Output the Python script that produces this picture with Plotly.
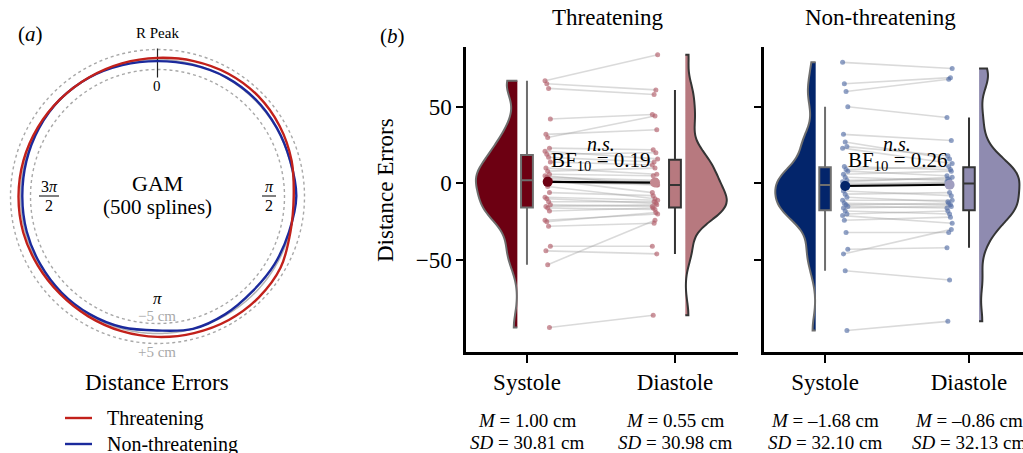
import numpy as np
import plotly.graph_objects as go

# ---------------- data ----------------
# Panel (a): GAM fitted distance-error deviations (cm) around the cardiac cycle
gam_angles_deg = [0, 15, 30, 45, 60, 75, 90, 105, 120, 135, 150, 165,
                  180, 195, 210, 225, 240, 255, 270, 285, 300, 315, 330, 345]
gam_threatening = [0.8, 1.6, 2.4, 2.6, 2.0, 0.9, -0.4, 0.3, 2.6, 3.0, 2.8, 2.2,
                   1.7, 1.2, 0.7, 0.4, 0.6, 1.0, 1.0, 0.9, 0.6, 0.3, 0.2, 0.4]
gam_nonthreatening = [-0.8, -0.4, 0.3, 0.5, 0.3, 0.2, 0.9, -0.4, -0.9, -1.4, -0.6, 0.0,
                      -1.5, -0.8, -0.6, -0.6, -0.8, -0.8, -0.9, -0.6, -0.1, 0.3, 0.1, -0.5]
ring_levels = [-5, 5]

# Panel (b): per-participant distance errors (cm), paired by position
phases = ["Systole", "Diastole"]
conditions = ["Threatening", "Non-threatening"]
threat_systole = [67, 65, 62, 42, 32, 30, 23, 21, 19, 17, 14, 10, 8, 6, 5, 4, 3, 2,
                  1, -2, -6, -9, -10, -12, -14, -15, -16, -18, -24, -25, -28, -41, -44, -53, -94]
threat_diastole = [84, 61, 58, 45, 35, 44, 22, 16, 20, 14, 12, 6, 10, 5, -1, 2, 1, -6,
                   -1, -10, -8, -11, -13, -12, -15, -14, -17, -16, -20, -19, -26, -41, -46, -24, -86]
non_systole = [79, 65, 60, 50, 32, 27, 24, 23, 11, 9, 8, 6, 4, 2, 1, 0, -1, -1,
               -5, -7, -9, -11, -13, -14, -15, -16, -18, -20, -21, -24, -32, -43, -46, -57, -96]
non_diastole = [75, 69, 68, 43, 28, 16, 18, 13, 9, 11, 5, 8, 2, 3, 4, 0, 0, 1,
                -8, -6, -12, -11, -14, -13, -16, -15, -20, -18, -26, -22, -32, -42, -30, -63, -90]
means = {"Threatening": [1.00, 0.55], "Non-threatening": [-1.68, -0.86]}
mean_labels = {"Threatening": ["1.00", "0.55"], "Non-threatening": ["–1.68", "–0.86"]}
sd_labels = {"Threatening": ["30.81", "30.98"], "Non-threatening": ["32.10", "32.13"]}
bf10 = {"Threatening": "0.19", "Non-threatening": "0.26"}
y_tick_vals = [-50, 0, 50]
y_tick_text = ["−50", "0", "50"]

# ---------------- styling ----------------
W, H = 1023, 453
FONT = "Liberation Serif"
RED, BLUE = "#c2211b", "#1b2a9c"


def px(x, y):
    return x / W, 1 - y / H


fig = go.Figure()

# ---------- panel (a): polar ----------
theta_ring = np.linspace(0, 360, 361)
for lev in ring_levels:
    fig.add_trace(go.Scatterpolar(r=np.full_like(theta_ring, lev), theta=theta_ring, mode="lines",
                                  line=dict(color="#a8a8a8", width=1.4, dash="3px,3px"),
                                  hoverinfo="skip", showlegend=False, subplot="polar"))
fig.add_trace(go.Scatterpolar(r=np.zeros_like(theta_ring), theta=theta_ring, mode="lines",
                              line=dict(color="#b4b4b4", width=1.5),
                              hoverinfo="skip", showlegend=False, subplot="polar"))
fig.add_trace(go.Scatterpolar(r=[-9, 5.5], theta=[0, 0], mode="lines",
                              line=dict(color="#222", width=1.2),
                              hoverinfo="skip", showlegend=False, subplot="polar"))
for vals, col in [(gam_nonthreatening, BLUE), (gam_threatening, RED)]:
    fig.add_trace(go.Scatterpolar(r=vals + [vals[0]], theta=gam_angles_deg + [360],
                                  mode="lines", line=dict(color=col, width=2.4, shape="spline", smoothing=1.0),
                                  hoverinfo="skip", showlegend=False, subplot="polar"))

# ---------- panel (b) ----------
panel_data = {
    "Threatening": dict(sys=threat_systole, dia=threat_diastole, xa="x", ya="y",
                        sys_fill="#6d0012", dia_fill="#b7797f", sys_line="#6e6e6e", dia_line="#343434",
                        pt="rgba(176,92,104,0.65)", mdot=["#6d0012", "#c48890"]),
    "Non-threatening": dict(sys=non_systole, dia=non_diastole, xa="x2", ya="y2",
                            sys_fill="#03256b", dia_fill="#8f8bb0", sys_line="#6e6e6e", dia_line="#343434",
                            pt="rgba(84,110,166,0.65)", mdot=["#03256b", "#a09ec0"]),
}

for cond in conditions:
    d = panel_data[cond]
    n = len(d["sys"])
    jit = [((i * 37) % 7 - 3) * 0.006 for i in range(n)]
    xs = [1.14 + j for j in jit]
    xd = [1.865 - j for j in jit]
    lx, ly = [], []
    for i in range(n):
        lx += [xs[i], xd[i], None]
        ly += [d["sys"][i], d["dia"][i], None]
    fig.add_trace(go.Scatter(x=lx, y=ly, mode="lines", line=dict(color="rgba(150,150,150,0.35)", width=1.6),
                             hoverinfo="skip", showlegend=False, xaxis=d["xa"], yaxis=d["ya"]))
    fig.add_trace(go.Scatter(x=xs + xd, y=d["sys"] + d["dia"], mode="markers",
                             marker=dict(color=d["pt"], size=5), hoverinfo="skip", showlegend=False,
                             xaxis=d["xa"], yaxis=d["ya"]))
    m = means[cond]
    fig.add_trace(go.Scatter(x=[1.14, 1.865], y=m, mode="lines+markers",
                             line=dict(color="black", width=2.2),
                             marker=dict(color=d["mdot"], size=10), hoverinfo="skip", showlegend=False,
                             xaxis=d["xa"], yaxis=d["ya"]))
    # half violins
    fig.add_trace(go.Violin(x0=1 - 0.065, y=d["sys"], side="negative", width=0.56, spanmode="hard",
                            bandwidth=9, fillcolor=d["sys_fill"], line=dict(color=d["sys_line"], width=2),
                            points=False, box_visible=False, meanline_visible=False, opacity=1,
                            hoverinfo="skip", showlegend=False, xaxis=d["xa"], yaxis=d["ya"]))
    fig.add_trace(go.Violin(x0=2 + 0.07, y=d["dia"], side="positive", width=0.56, spanmode="hard",
                            bandwidth=9, fillcolor=d["dia_fill"], line=dict(color=d["dia_line"], width=2),
                            points=False, box_visible=False, meanline_visible=False, opacity=1,
                            hoverinfo="skip", showlegend=False, xaxis=d["xa"], yaxis=d["ya"]))
    # boxes (Tukey whiskers; outliers hidden)
    for xv, vals, fc, lc in [(1, d["sys"], d["sys_fill"], d["sys_line"]),
                             (2, d["dia"], d["dia_fill"], d["dia_line"])]:
        fig.add_trace(go.Box(x0=xv, y=vals, width=0.08, fillcolor=fc,
                             line=dict(color=lc, width=2), boxpoints="outliers",
                             marker=dict(opacity=0, size=1), whiskerwidth=0,
                             hoverinfo="skip", showlegend=False, xaxis=d["xa"], yaxis=d["ya"]))

# ---------- axes ----------
ydom = [1 - 352 / H, 1 - 47 / H]
common_x = dict(type="linear", tickvals=[1, 2], ticktext=phases, showline=True, linecolor="black",
                linewidth=2.5, ticks="outside", ticklen=8, tickwidth=2, tickcolor="black",
                showgrid=False, zeroline=False, tickfont=dict(family=FONT, size=23, color="black"),
                ticklabelstandoff=0)
common_y = dict(range=[-110, 89], tickvals=y_tick_vals, showline=True, linecolor="black",
                linewidth=2.5, ticks="outside", ticklen=7, tickwidth=2, tickcolor="black",
                showgrid=False, zeroline=False, tickfont=dict(family=FONT, size=23, color="black"))

layout = dict(
    width=W, height=H, margin=dict(l=0, r=0, t=0, b=0),
    paper_bgcolor="white", plot_bgcolor="white",
    font=dict(family=FONT, color="black"),
    showlegend=False, boxmode="overlay", violinmode="overlay",
    polar=dict(domain=dict(x=[7.5 / W, 307.5 / W], y=[1 - 346.5 / H, 1 - 46.5 / H]),
               bgcolor="rgba(0,0,0,0)",
               radialaxis=dict(visible=False, range=[-68.5, 6.5]),
               angularaxis=dict(visible=False, rotation=90, direction="clockwise")),
    xaxis=dict(domain=[466 / W, 738 / W], range=[0.588, 2.426], anchor="y", **common_x),
    yaxis=dict(domain=ydom, anchor="x", ticktext=y_tick_text, **common_y),
    xaxis2=dict(domain=[764 / W, 1.0], range=[0.576, 2.375], anchor="y2", **common_x),
    yaxis2=dict(domain=ydom, anchor="x2", showticklabels=False, **common_y),
)
fig.update_layout(**layout)

ann = []


def add_text(x, y, text, size, color="black", **kw):
    xx, yy = px(x, y)
    ann.append(dict(x=xx, y=yy, xref="paper", yref="paper", text=text, showarrow=False,
                    font=dict(family=FONT, size=size, color=color), xanchor=kw.pop("xanchor", "center"),
                    yanchor="middle", **kw))


# panel (a) text
add_text(30, 34, "(<i>a</i>)", 21)
add_text(157, 33, "R Peak", 15)
add_text(157, 86, "0", 15)
add_text(157, 183, "GAM", 22)
add_text(157, 207, "(500 splines)", 21)
add_text(49, 186, "3<i>π</i>", 16)
add_text(49, 205, "2", 16)
add_text(269, 186, "<i>π</i>", 16)
add_text(269, 205, "2", 16)
add_text(157, 298, "<i>π</i>", 17)
add_text(157, 316, "−5 cm", 15, color="#a9a9a9")
add_text(157, 352, "+5 cm", 15, color="#a9a9a9")
add_text(157, 382, "Distance Errors", 23)
add_text(105, 418, "Threatening", 20, xanchor="left")
add_text(105, 444, "Non-threatening", 20, xanchor="left")

shapes = []
for (x0, x1, y, col, w) in [(39, 59, 196, "black", 1), (262, 276, 196, "black", 1),
                            (65, 92, 418, RED, 2.4), (65, 92, 444, BLUE, 2.4)]:
    a0, b0 = px(x0, y)
    a1, b1 = px(x1, y)
    shapes.append(dict(type="line", xref="paper", yref="paper", x0=a0, x1=a1, y0=b0, y1=b1,
                       line=dict(color=col, width=w)))

# panel (b) text
add_text(392, 36, "(<i>b</i>)", 21)
add_text(386, 190, "Distance Errors", 23, textangle=-90)
add_text(608, 18, "Threatening", 23)
add_text(880, 18, "Non-threatening", 23)

for cond in conditions:
    d = panel_data[cond]
    ann.append(dict(x=1.5, y=26, xref=d["xa"], yref=d["ya"], text="<i>n.s.</i>", showarrow=False,
                    xanchor="center", yanchor="middle",
                    font=dict(family=FONT, size=20, color="black")))
    ann.append(dict(x=1.5, y=14.5, xref=d["xa"], yref=d["ya"],
                    text="BF<sub>10</sub> = " + bf10[cond], showarrow=False,
                    xanchor="center", yanchor="middle",
                    font=dict(family=FONT, size=21, color="black")))
    for k, xv in enumerate([1, 2]):
        ann.append(dict(x=xv, y=1 - 420 / H, xref=d["xa"], yref="paper",
                        text="<i>M</i> = " + mean_labels[cond][k] + " cm", showarrow=False,
                        xanchor="center", yanchor="middle",
                        font=dict(family=FONT, size=19, color="black")))
        ann.append(dict(x=xv, y=1 - 442 / H, xref=d["xa"], yref="paper",
                        text="<i>SD</i> = " + sd_labels[cond][k] + " cm", showarrow=False,
                        xanchor="center", yanchor="middle",
                        font=dict(family=FONT, size=19, color="black")))

fig.update_layout(annotations=ann, shapes=shapes)
fig.write_html("out.html", config={"displayModeBar": False},
               post_script="document.body.style.margin='0';")
